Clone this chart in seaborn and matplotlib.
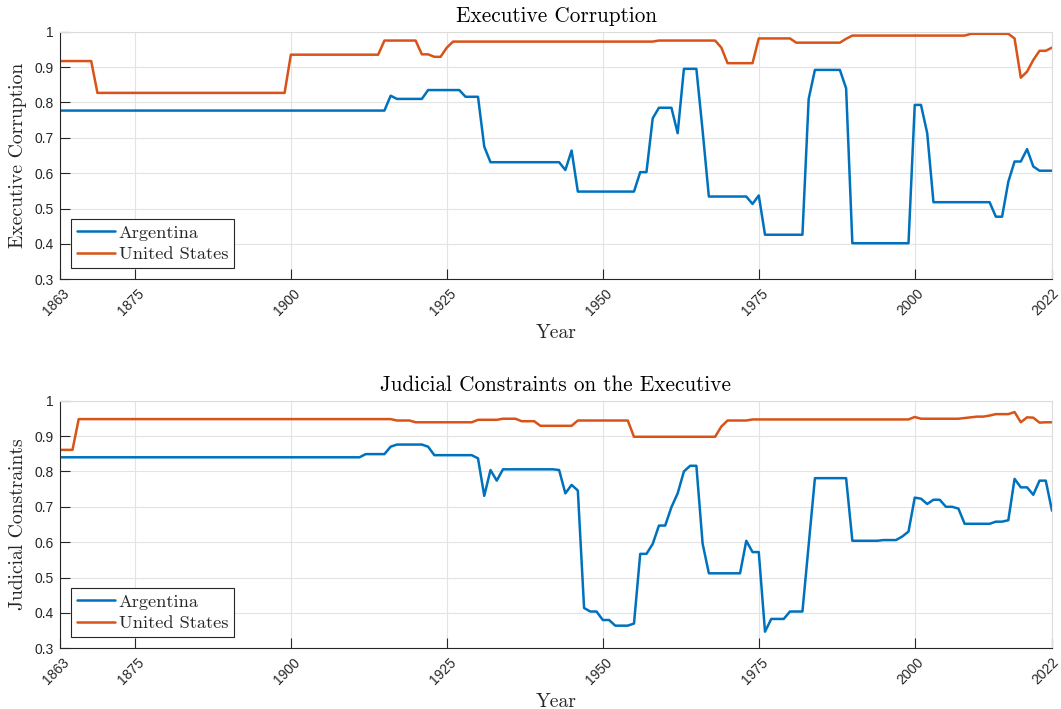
import matplotlib
matplotlib.use("Agg")
import matplotlib.pyplot as plt
from matplotlib.transforms import ScaledTranslation
import pandas as pd
import seaborn as sns

# ---------------------------------------------------------------- data
years = list(range(1863, 2023))

# Executive corruption index, one value per year (rows of ten years)
arg_corruption = [
    0.777, 0.777, 0.777, 0.777, 0.777, 0.777, 0.777, 0.777, 0.777, 0.777,  # 1863-1872
    0.777, 0.777, 0.777, 0.777, 0.777, 0.777, 0.777, 0.777, 0.777, 0.777,  # 1873-1882
    0.777, 0.777, 0.777, 0.777, 0.777, 0.777, 0.777, 0.777, 0.777, 0.777,  # 1883-1892
    0.777, 0.777, 0.777, 0.777, 0.777, 0.777, 0.777, 0.777, 0.777, 0.777,  # 1893-1902
    0.777, 0.777, 0.777, 0.777, 0.777, 0.777, 0.777, 0.777, 0.777, 0.777,  # 1903-1912
    0.777, 0.777, 0.777, 0.819, 0.810, 0.810, 0.810, 0.810, 0.810, 0.835,  # 1913-1922
    0.835, 0.835, 0.835, 0.835, 0.835, 0.816, 0.816, 0.816, 0.675, 0.631,  # 1923-1932
    0.631, 0.631, 0.631, 0.631, 0.631, 0.631, 0.631, 0.631, 0.631, 0.631,  # 1933-1942
    0.631, 0.609, 0.664, 0.548, 0.548, 0.548, 0.548, 0.548, 0.548, 0.548,  # 1943-1952
    0.548, 0.548, 0.548, 0.603, 0.603, 0.755, 0.785, 0.785, 0.785, 0.713,  # 1953-1962
    0.895, 0.895, 0.895, 0.720, 0.534, 0.534, 0.534, 0.534, 0.534, 0.534,  # 1963-1972
    0.534, 0.513, 0.537, 0.426, 0.426, 0.426, 0.426, 0.426, 0.426, 0.426,  # 1973-1982
    0.810, 0.892, 0.892, 0.892, 0.892, 0.892, 0.840, 0.402, 0.402, 0.402,  # 1983-1992
    0.402, 0.402, 0.402, 0.402, 0.402, 0.402, 0.402, 0.793, 0.793, 0.713,  # 1993-2002
    0.518, 0.518, 0.518, 0.518, 0.518, 0.518, 0.518, 0.518, 0.518, 0.518,  # 2003-2012
    0.477, 0.477, 0.576, 0.633, 0.633, 0.668, 0.619, 0.607, 0.607, 0.607,  # 2013-2022
]
usa_corruption = [
    0.917, 0.917, 0.917, 0.917, 0.917, 0.917, 0.827, 0.827, 0.827, 0.827,  # 1863-1872
    0.827, 0.827, 0.827, 0.827, 0.827, 0.827, 0.827, 0.827, 0.827, 0.827,  # 1873-1882
    0.827, 0.827, 0.827, 0.827, 0.827, 0.827, 0.827, 0.827, 0.827, 0.827,  # 1883-1892
    0.827, 0.827, 0.827, 0.827, 0.827, 0.827, 0.827, 0.935, 0.935, 0.935,  # 1893-1902
    0.935, 0.935, 0.935, 0.935, 0.935, 0.935, 0.935, 0.935, 0.935, 0.935,  # 1903-1912
    0.935, 0.935, 0.975, 0.975, 0.975, 0.975, 0.975, 0.975, 0.936, 0.936,  # 1913-1922
    0.929, 0.929, 0.955, 0.972, 0.972, 0.972, 0.972, 0.972, 0.972, 0.972,  # 1923-1932
    0.972, 0.972, 0.972, 0.972, 0.972, 0.972, 0.972, 0.972, 0.972, 0.972,  # 1933-1942
    0.972, 0.972, 0.972, 0.972, 0.972, 0.972, 0.972, 0.972, 0.972, 0.972,  # 1943-1952
    0.972, 0.972, 0.972, 0.972, 0.972, 0.972, 0.975, 0.975, 0.975, 0.975,  # 1953-1962
    0.975, 0.975, 0.975, 0.975, 0.975, 0.975, 0.955, 0.911, 0.911, 0.911,  # 1963-1972
    0.911, 0.911, 0.981, 0.981, 0.981, 0.981, 0.981, 0.981, 0.969, 0.969,  # 1973-1982
    0.969, 0.969, 0.969, 0.969, 0.969, 0.969, 0.980, 0.989, 0.989, 0.989,  # 1983-1992
    0.989, 0.989, 0.989, 0.989, 0.989, 0.989, 0.989, 0.989, 0.989, 0.989,  # 1993-2002
    0.989, 0.989, 0.989, 0.989, 0.989, 0.989, 0.994, 0.994, 0.994, 0.994,  # 2003-2012
    0.994, 0.994, 0.994, 0.981, 0.870, 0.887, 0.920, 0.946, 0.946, 0.955,  # 2013-2022
]

# Judicial constraints on the executive index
arg_judicial = [
    0.840, 0.840, 0.840, 0.840, 0.840, 0.840, 0.840, 0.840, 0.840, 0.840,  # 1863-1872
    0.840, 0.840, 0.840, 0.840, 0.840, 0.840, 0.840, 0.840, 0.840, 0.840,  # 1873-1882
    0.840, 0.840, 0.840, 0.840, 0.840, 0.840, 0.840, 0.840, 0.840, 0.840,  # 1883-1892
    0.840, 0.840, 0.840, 0.840, 0.840, 0.840, 0.840, 0.840, 0.840, 0.840,  # 1893-1902
    0.840, 0.840, 0.840, 0.840, 0.840, 0.840, 0.840, 0.840, 0.840, 0.849,  # 1903-1912
    0.849, 0.849, 0.849, 0.870, 0.876, 0.876, 0.876, 0.876, 0.876, 0.870,  # 1913-1922
    0.846, 0.846, 0.846, 0.846, 0.846, 0.846, 0.846, 0.837, 0.731, 0.804,  # 1923-1932
    0.774, 0.806, 0.806, 0.806, 0.806, 0.806, 0.806, 0.806, 0.806, 0.806,  # 1933-1942
    0.804, 0.738, 0.762, 0.746, 0.414, 0.404, 0.404, 0.380, 0.380, 0.364,  # 1943-1952
    0.364, 0.364, 0.370, 0.567, 0.567, 0.595, 0.647, 0.647, 0.699, 0.738,  # 1953-1962
    0.800, 0.816, 0.816, 0.596, 0.512, 0.512, 0.512, 0.512, 0.512, 0.512,  # 1963-1972
    0.604, 0.572, 0.572, 0.347, 0.383, 0.383, 0.383, 0.404, 0.404, 0.404,  # 1973-1982
    0.592, 0.781, 0.781, 0.781, 0.781, 0.781, 0.781, 0.604, 0.604, 0.604,  # 1983-1992
    0.604, 0.604, 0.606, 0.606, 0.606, 0.616, 0.630, 0.726, 0.723, 0.708,  # 1993-2002
    0.720, 0.720, 0.700, 0.700, 0.695, 0.652, 0.652, 0.652, 0.652, 0.652,  # 2003-2012
    0.658, 0.658, 0.662, 0.779, 0.755, 0.755, 0.734, 0.774, 0.774, 0.689,  # 2013-2022
]
usa_judicial = [
    0.861, 0.861, 0.861, 0.948, 0.948, 0.948, 0.948, 0.948, 0.948, 0.948,  # 1863-1872
    0.948, 0.948, 0.948, 0.948, 0.948, 0.948, 0.948, 0.948, 0.948, 0.948,  # 1873-1882
    0.948, 0.948, 0.948, 0.948, 0.948, 0.948, 0.948, 0.948, 0.948, 0.948,  # 1883-1892
    0.948, 0.948, 0.948, 0.948, 0.948, 0.948, 0.948, 0.948, 0.948, 0.948,  # 1893-1902
    0.948, 0.948, 0.948, 0.948, 0.948, 0.948, 0.948, 0.948, 0.948, 0.948,  # 1903-1912
    0.948, 0.948, 0.948, 0.948, 0.944, 0.944, 0.944, 0.939, 0.939, 0.939,  # 1913-1922
    0.939, 0.939, 0.939, 0.939, 0.939, 0.939, 0.939, 0.946, 0.946, 0.946,  # 1923-1932
    0.946, 0.949, 0.949, 0.949, 0.942, 0.942, 0.942, 0.929, 0.929, 0.929,  # 1933-1942
    0.929, 0.929, 0.929, 0.944, 0.944, 0.944, 0.944, 0.944, 0.944, 0.944,  # 1943-1952
    0.944, 0.944, 0.898, 0.898, 0.898, 0.898, 0.898, 0.898, 0.898, 0.898,  # 1953-1962
    0.898, 0.898, 0.898, 0.898, 0.898, 0.898, 0.927, 0.944, 0.944, 0.944,  # 1963-1972
    0.944, 0.947, 0.947, 0.947, 0.947, 0.947, 0.947, 0.947, 0.947, 0.947,  # 1973-1982
    0.947, 0.947, 0.947, 0.947, 0.947, 0.947, 0.947, 0.947, 0.947, 0.947,  # 1983-1992
    0.947, 0.947, 0.947, 0.947, 0.947, 0.947, 0.947, 0.954, 0.949, 0.949,  # 1993-2002
    0.949, 0.949, 0.949, 0.949, 0.949, 0.951, 0.953, 0.955, 0.955, 0.958,  # 2003-2012
    0.962, 0.962, 0.962, 0.968, 0.939, 0.953, 0.952, 0.938, 0.939, 0.939,  # 2013-2022
]

countries = ["Argentina", "United States"]
palette = {"Argentina": "#0072BD", "United States": "#D95319"}

x_ticks = [1863, 1875, 1900, 1925, 1950, 1975, 2000, 2022]
y_ticks = [0.3, 0.4, 0.5, 0.6, 0.7, 0.8, 0.9, 1.0]
y_tick_labels = ["0.3", "0.4", "0.5", "0.6", "0.7", "0.8", "0.9", "1"]

panels = [
    ("Executive Corruption", "Executive Corruption", arg_corruption, usa_corruption),
    ("Judicial Constraints on the Executive", "Judicial Constraints", arg_judicial, usa_judicial),
]

# ---------------------------------------------------------------- style
sns.set_theme(style="white")
plt.rcParams["font.family"] = ["Liberation Sans", "DejaVu Sans"]

SERIF = "cmr10"
DARK = "#262626"
GRID = "#e3e3e3"

W, H = 1061, 709
fig = plt.figure(figsize=(W / 100, H / 100), dpi=100, facecolor="white")

# axes boxes in pixels: left, top, width, height
boxes = [(60, 31.7, 992, 247.6), (60, 400.7, 992, 247.6)]

for (title, ylabel, arg_vals, usa_vals), (left, top, width, height) in zip(panels, boxes):
    ax = fig.add_axes([left / W, 1 - (top + height) / H, width / W, height / H])

    df = pd.DataFrame({
        "Year": years + years,
        "Value": arg_vals + usa_vals,
        "Country": [countries[0]] * len(years) + [countries[1]] * len(years),
    })
    sns.lineplot(data=df, x="Year", y="Value", hue="Country", hue_order=countries,
                 palette=palette, linewidth=1.8, estimator=None, errorbar=None,
                 legend=False, ax=ax)

    ax.set_xlim(1863, 2022)
    ax.set_ylim(0.3, 1.0)
    ax.set_xticks(x_ticks)
    ax.set_xticklabels([str(t) for t in x_ticks])
    ax.set_yticks(y_ticks)
    ax.set_yticklabels(y_tick_labels)

    ax.grid(True, color=GRID, linewidth=0.8)
    ax.set_axisbelow(True)

    for side in ("left", "bottom"):
        ax.spines[side].set_color(DARK)
        ax.spines[side].set_linewidth(0.8)
    for side in ("top", "right"):
        ax.spines[side].set_color("#dcdcdc")
        ax.spines[side].set_linewidth(0.8)

    ax.tick_params(axis="both", direction="in", length=7, width=0.8, color=DARK,
                   labelcolor=DARK, labelsize=10, top=False, right=False,
                   bottom=True, left=True)
    ax.tick_params(axis="y", pad=4.8)
    ax.tick_params(axis="x", pad=16.5)
    # rotated year labels, centred a little left of and below each tick;
    # the last one is nudged further so it stays inside the figure
    labels = ax.get_xticklabels()
    for i, lbl in enumerate(labels):
        dx = -6.5 if i == len(labels) - 1 else -4
        lbl.set_rotation(45)
        lbl.set_ha("center")
        lbl.set_va("center")
        lbl.set_rotation_mode("anchor")
        lbl.set_transform(lbl.get_transform()
                          + ScaledTranslation(dx / 100, 0, fig.dpi_scale_trans))

    ax.set_title(title, fontfamily=SERIF, fontsize=15.3, color="black", pad=7.2)
    ax.set_ylabel(ylabel, fontfamily=SERIF, fontsize=14.1, color=DARK, labelpad=5)
    ax.set_xlabel("Year", fontfamily=SERIF, fontsize=14.1, color=DARK, labelpad=4)

    leg = ax.legend(handles=ax.lines[:2], labels=countries, loc="lower left",
                    bbox_to_anchor=(10.7 / width, 11 / height), borderaxespad=0,
                    prop={"family": SERIF, "size": 13.2}, frameon=True,
                    fancybox=False, framealpha=1, edgecolor=DARK,
                    handlelength=2.1, handletextpad=0.2, borderpad=0.32,
                    labelspacing=0.33)
    leg.get_frame().set_linewidth(0.8)

fig.savefig("out.png", dpi=100, facecolor="white")
